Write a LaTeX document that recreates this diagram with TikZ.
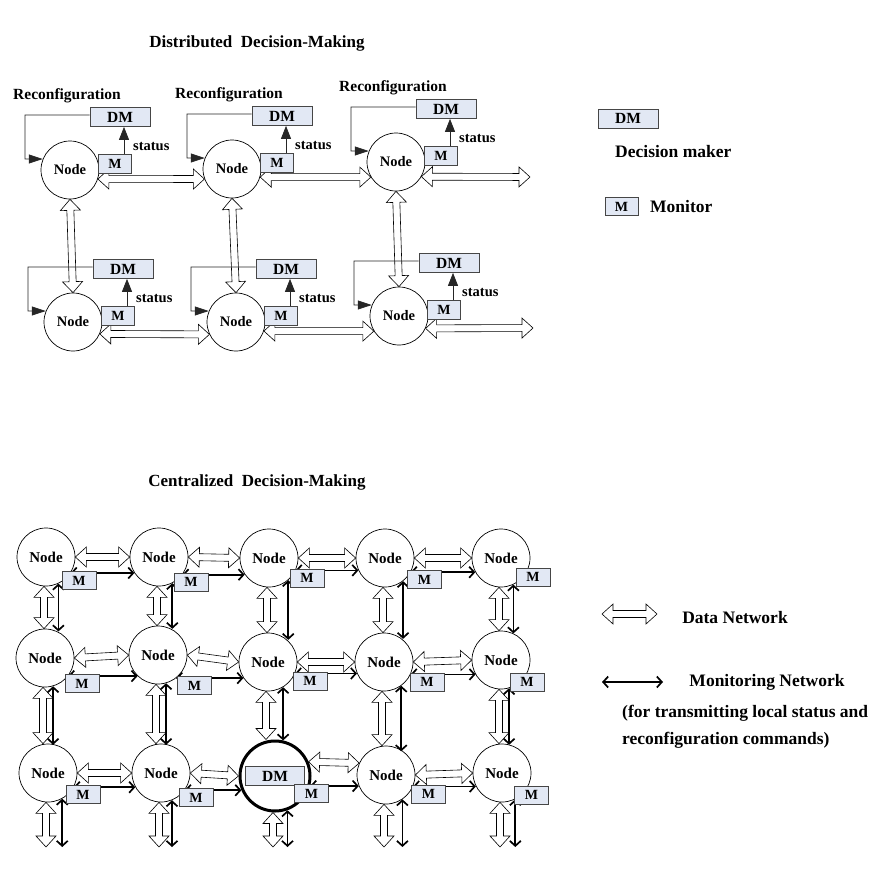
\documentclass[tikz,border=0pt]{standalone}
\usepackage{fontspec}
\setmainfont{Liberation Serif}
\usetikzlibrary{arrows.meta,calc}

\definecolor{boxfill}{RGB}{226,232,244}
\definecolor{boxedge}{RGB}{70,70,70}

\newcommand\fsz[1]{\fontsize{#1}{#1}\selectfont\bfseries}

% hollow double-headed data link between two points
\newcommand\datalink[2]{%
  \draw[dataarrow] let \p1=(#1), \p2=(#2),
    \n1={atan2(\y2-\y1,\x2-\x1)}, \n2={veclen(\x2-\x1,\y2-\y1)} in
    [shift={(\p1)}, rotate=\n1]
    (0pt,0pt) -- (11pt,10pt) -- (11pt,3.5pt) -- ({\n2-11pt},3.5pt) -- ({\n2-11pt},10pt)
    -- ({\n2},0pt) -- ({\n2-11pt},-10pt) -- ({\n2-11pt},-3.5pt) -- (11pt,-3.5pt)
    -- (11pt,-10pt) -- cycle;}

\begin{document}
\begin{tikzpicture}[x=1pt,y=-1pt,
  nodecirc/.style={circle, draw, line width=0.7pt, fill=white, minimum size=58pt, inner sep=0pt, font=\fsz{14.5}},
  gridcirc/.style={nodecirc, font=\fsz{15}},
  dmcirc/.style={circle, draw, line width=3pt, fill=white, minimum size=70pt, inner sep=0pt},
  dmbox/.style={rectangle, draw=boxedge, fill=boxfill, line width=0.7pt, minimum width=60pt, minimum height=19pt, inner sep=0pt, font=\fsz{15.5}},
  mbox/.style={rectangle, draw=boxedge, fill=boxfill, line width=0.7pt, minimum width=33pt, minimum height=19pt, inner sep=0pt, font=\fsz{14}},
  gmbox/.style={mbox, minimum width=34pt, minimum height=18pt},
  lbl/.style={inner sep=0pt, font=\fsz{14.5}},
  reconf/.style={inner sep=0pt, font=\fsz{15.5}},
  legendtxt/.style={inner sep=0pt, font=\fsz{17.5}},
  heading/.style={inner sep=0pt, font=\fsz{17}},
  ctrl/.style={draw=black!85, line width=0.8pt},
  dataarrow/.style={draw=black, fill=white, line width=0.6pt},
  mon/.style={line width=1.7pt, {Straight Barb[length=5pt,width=11pt]}-{Straight Barb[length=5pt,width=11pt]}},
]
\useasboundingbox (0,0) rectangle (877,870);

% ---------------- distributed decision-making ----------------
\node[heading] (t1) at (257,43) {Distributed~~Decision-Making};

\node[nodecirc] (n1) at (70,170) {Node};
\node[nodecirc] (n2) at (232,169) {Node};
\node[nodecirc] (n3) at (396,162) {Node};
\node[nodecirc] (n4) at (73,322) {Node};
\node[nodecirc] (n5) at (236,322) {Node};
\node[nodecirc] (n6) at (399,316) {Node};

\coordinate (o3) at (530,177);
\coordinate (o6) at (533,328);
\datalink{n1.-18}{n2.200}
\datalink{n2.-16}{n3.211}
\datalink{n3.-30}{o3}
\datalink{n4.-24}{n5.205}
\datalink{n5.-18}{n6.211}
\datalink{n6.-25}{o6}
\datalink{n1.south}{n4.north}
\datalink{n2.south}{n5.north}
\datalink{n3.south}{n6.north}

\foreach \i in {1,...,6} {
  \node[dmbox] (d\i) at ($(n\i)+(50,-53)$) {DM};
  \node[mbox] (m\i) at ($(n\i)+(45,-6)$) {M};
  \draw[ctrl, -{Triangle[length=13pt,width=10pt]}]
    ([xshift=9pt]m\i.north) -- ([xshift=9pt]m\i.north |- d\i.south);
  \node[lbl, anchor=west] (s\i) at ($(n\i)+(63,-23)$) {status};
  \draw[ctrl, -{Triangle[length=14pt,width=9pt]}]
    ([yshift=2pt]d\i.west) -| ($(n\i)+(-45,-11)$) -- (n\i.158);
}
\foreach \i in {1,2,3} {
  \node[reconf] (r\i) at ($(n\i)+(-3,-74)$) {Reconfiguration};
}

% legend
\node[dmbox] (ldm) at (628,118.5) {DM};
\node[legendtxt, anchor=west] (ldmt) at (615,152) {Decision maker};
\node[mbox, minimum height=18pt] (lm) at (621.5,206.5) {M};
\node[legendtxt, anchor=west] (lmt) at (650,207) {Monitor};

% ---------------- centralized decision-making ----------------
\node[heading] (t2) at (257,482) {Centralized~~Decision-Making};

\node[gridcirc] (g11) at (46,557) {Node};
\node[gridcirc] (g12) at (159,557) {Node};
\node[gridcirc] (g13) at (269,558) {Node};
\node[gridcirc] (g14) at (385,558) {Node};
\node[gridcirc] (g15) at (501,558) {Node};
\node[gridcirc] (g21) at (45,658) {Node};
\node[gridcirc] (g22) at (158,655) {Node};
\node[gridcirc] (g23) at (268,662) {Node};
\node[gridcirc] (g24) at (384,662) {Node};
\node[gridcirc] (g25) at (501,660) {Node};
\node[gridcirc] (g31) at (48,773) {Node};
\node[gridcirc] (g32) at (161,773) {Node};
\node[dmcirc]   (g33) at (275,776) {};
\node[gridcirc] (g34) at (386,775) {Node};
\node[gridcirc] (g35) at (502,773) {Node};

\coordinate (bot) at (0,847);

% data network (hollow links)
\datalink{g11.east}{g12.west}
\datalink{g12.east}{g13.west}
\datalink{g13.east}{g14.west}
\datalink{g14.east}{g15.west}
\datalink{g21.east}{g22.west}
\datalink{g22.east}{g23.west}
\datalink{g23.east}{g24.west}
\datalink{g24.east}{g25.west}
\datalink{g31.east}{g32.west}
\datalink{g32.east}{g33.west}
\datalink{g33.23}{g34.156}
\datalink{g34.east}{g35.west}
\foreach \c in {1,...,5} {
  \datalink{[xshift=-2pt]g1\c.south}{[xshift=-2pt]g1\c.south |- g2\c.north}
  \datalink{[xshift=-2pt]g2\c.south}{[xshift=-2pt]g2\c.south |- g3\c.north}
  \datalink{[xshift=-2pt]g3\c.south}{[xshift=-2pt]g3\c.south |- bot}
}

% monitoring network
\draw[mon] (g11.-33.5) -- (g12.213.5 |- g11.-33.5);
\draw[mon] (g12.-37)   -- (g13.214.7 |- g12.-37);
\draw[mon] (g13.-25.5) -- (g14.205.5 |- g13.-25.5);
\draw[mon] (g14.-29)   -- (g15.209 |- g14.-29);
\draw[mon] (g21.-38)   -- (g22.226 |- g21.-38);
\draw[mon] (g22.-52.5) -- (g23.213.5 |- g22.-52.5);
\draw[mon] (g23.-23.4) -- (g24.203.4 |- g23.-23.4);
\draw[mon] (g24.-25.5) -- (g25.210 |- g24.-25.5);
\draw[mon] (g31.-29)   -- (g32.209 |- g31.-29);
\draw[mon] (g32.-36)   -- (g33.203 |- g32.-36);
\draw[mon] (g33.-16)   -- (g34.202 |- g33.-16);
\draw[mon] (g34.-23.4) -- (g35.207.7 |- g34.-23.4);

\draw[mon] (g11.-65) -- (g11.-65 |- g21.65);
\draw[mon] (g12.-63) -- (g12.-63 |- g22.63);
\draw[mon] (g13.-49) -- (g13.-49 |- g23.49);
\draw[mon] (g14.-52) -- (g14.-52 |- g24.52);
\draw[mon] (g15.-65) -- (g15.-65 |- g25.65);
\draw[mon] (g21.-74) -- (g21.-74 |- g31.74);
\draw[mon] (g22.-74) -- (g22.-74 |- g32.74);
\draw[mon] (g23.-59) -- (g23.-59 |- g33.77);
\draw[mon] (g24.-54) -- (g24.-54 |- g34.54);
\draw[mon] (g25.-74) -- (g25.-74 |- g35.74);
\draw[mon] (g31.-61) -- (g31.-61 |- bot);
\draw[mon] (g32.-68) -- (g32.-68 |- bot);
\draw[mon] (g33.-70) -- (g33.-70 |- bot);
\draw[mon] (g34.-56) -- (g34.-56 |- bot);
\draw[mon] (g35.-63) -- (g35.-63 |- bot);

% monitors and the central decision maker
\node[gmbox] (gm11) at (79,580.5) {M};
\node[gmbox] (gm12) at (191,582) {M};
\node[gmbox] (gm13) at (307,578) {M};
\node[gmbox] (gm14) at (424.5,579.5) {M};
\node[gmbox] (gm15) at (533,577) {M};
\node[gmbox] (gm21) at (82,683.5) {M};
\node[gmbox] (gm22) at (194.5,685.5) {M};
\node[gmbox] (gm23) at (310,681) {M};
\node[gmbox] (gm24) at (427,682) {M};
\node[gmbox] (gm25) at (527,682) {M};
\node[gmbox] (gm31) at (83,794.5) {M};
\node[gmbox] (gm32) at (196,797.5) {M};
\node[dmbox, minimum width=59pt] (gdm) at (g33) {DM};
\node[gmbox] (gm33) at (311.5,793.5) {M};
\node[gmbox] (gm34) at (428.5,794) {M};
\node[gmbox] (gm35) at (531.5,795) {M};

% legend
\coordinate (la1) at (602,614);
\coordinate (la2) at (657,614);
\datalink{la1}{la2}
\node[legendtxt] (lat) at (735,618) {Data Network};
\coordinate (lb1) at (602,682);
\coordinate (lb2) at (663,682);
\draw[mon] (lb1) -- (lb2);
\node[legendtxt] (lbt) at (767,682) {Monitoring Network};
\node[legendtxt, anchor=west] (lc1) at (622,713) {(for transmitting local status and};
\node[legendtxt, anchor=west] (lc2) at (622,740) {reconfiguration commands)};
\end{tikzpicture}
\end{document}
